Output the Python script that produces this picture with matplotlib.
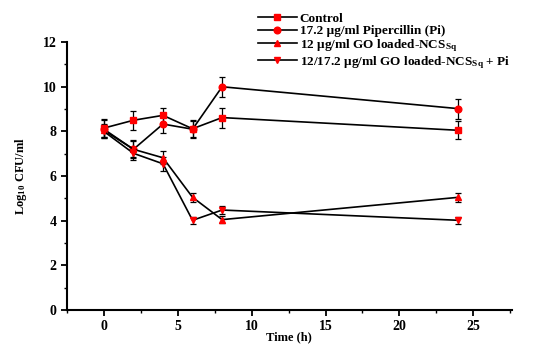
import matplotlib
matplotlib.use('Agg')
import matplotlib.pyplot as plt
import numpy as np
from matplotlib.ticker import MultipleLocator

plt.rcParams['font.family'] = ['Liberation Serif', 'DejaVu Serif']
plt.rcParams['font.weight'] = 'bold'
plt.rcParams['mathtext.fontset'] = 'custom'
plt.rcParams['mathtext.rm'] = 'Liberation Serif:bold'
plt.rcParams['mathtext.it'] = 'Liberation Serif:bold'

time_h = [0, 2, 4, 6, 8, 24]

control = [8.15, 8.5, 8.72, 8.12, 8.62, 8.05]
control_err = [0.4, 0.42, 0.35, 0.35, 0.45, 0.4]

pipercillin = [8.1, 7.2, 8.33, 8.1, 10.0, 9.02]
pipercillin_err = [0.4, 0.4, 0.4, 0.4, 0.45, 0.45]

go_ncs = [8.05, 7.2, 6.82, 5.05, 4.05, 5.05]
go_ncs_err = [0.3, 0.35, 0.3, 0.2, 0.15, 0.2]

go_ncs_pi = [8.0, 7.02, 6.55, 4.02, 4.48, 4.02]
go_ncs_pi_err = [0.3, 0.3, 0.3, 0.15, 0.2, 0.15]

labels = ['Control',
          '17.2 \u00b5g/ml Pipercillin (Pi)',
          '12 \u00b5g/ml GO loaded-NCS$_{\\mathrm{Sq}}$',
          '12/17.2 \u00b5g/ml GO loaded-NCS$_{\\mathrm{Sq}}$ + Pi']
series = [control, pipercillin, go_ncs, go_ncs_pi]
errors = [control_err, pipercillin_err, go_ncs_err, go_ncs_pi_err]
markers = ['s', 'o', '^', 'v']

fig = plt.figure(figsize=(5.58, 3.48), dpi=100)
ax = fig.add_axes([0.120, 0.109, 0.797, 0.770])

handles = []
for y, e, m, lab in zip(series, errors, markers, labels):
    ax.errorbar(time_h, y, yerr=e, fmt='none', ecolor='black',
                elinewidth=0.9, capsize=2.3, capthick=0.9, zorder=2)
    h, = ax.plot(time_h, y, color='black', lw=1.2, marker=m, markersize=4.8,
                 markerfacecolor='red', markeredgecolor='red', label=lab, zorder=3)
    handles.append(h)

ax.set_xlim(-2.5, 27.6)
ax.set_ylim(0, 12)
ax.xaxis.set_major_locator(MultipleLocator(5))
ax.xaxis.set_minor_locator(MultipleLocator(2.5))
ax.yaxis.set_major_locator(MultipleLocator(2))
ax.yaxis.set_minor_locator(MultipleLocator(1))
ax.spines['top'].set_visible(False)
ax.spines['right'].set_visible(False)
ax.spines['left'].set_linewidth(1.5)
ax.spines['bottom'].set_linewidth(1.5)
ax.tick_params(which='major', direction='out', length=4, width=1.3, labelsize=10)
ax.tick_params(which='minor', direction='out', length=2.5, width=1.0)

ax.set_xlabel('Time (h)', fontsize=9, fontweight='bold')
ax.xaxis.set_label_coords(0.5, -0.078)
ax.set_ylabel('Log$_{10}$ CFU/ml', fontsize=9, fontweight='bold', labelpad=10)

fig.legend(handles=handles, loc='upper left', bbox_to_anchor=(0.445, 0.99),
           frameon=False, handlelength=3.0, handletextpad=0.2,
           labelspacing=0.0, borderpad=0.2,
           prop={'family': 'Liberation Serif', 'weight': 'bold', 'size': 9.5})

fig.savefig('out.png', dpi=100)
